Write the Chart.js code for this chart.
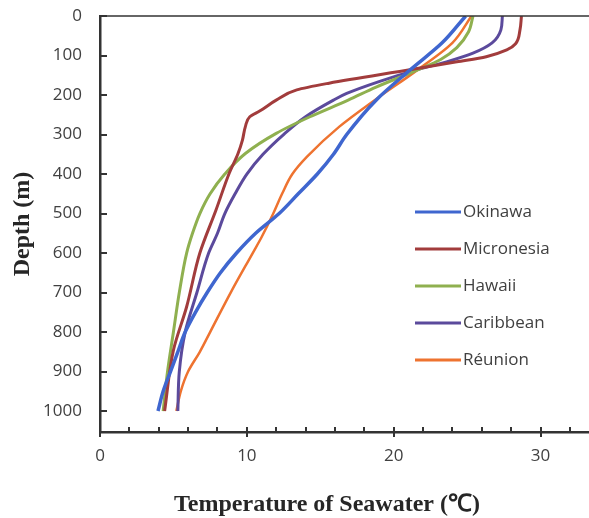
<!DOCTYPE html>
<html>
<head>
<meta charset="utf-8">
<script src="https://cdn.jsdelivr.net/npm/chart.js@4.4.0/dist/chart.umd.min.js"></script>
<style>
  html, body { margin: 0; padding: 0; background: #fff; }
  #wrap { width: 589px; height: 518px; }
</style>
</head>
<body>
<div id="wrap"><canvas id="tempChart" width="589" height="518"></canvas></div>
<script>
// Seawater temperature profiles (depth in m, temperature in degC)
const regions = ['Okinawa', 'Micronesia', 'Hawaii', 'Caribbean', 'Réunion'];
const colors = ['#3f66cf', '#a23c3c', '#8fb04f', '#5b4a9c', '#ee7330'];
const lineWidths = [3.5, 3, 3, 3, 2.5];

const okinawaDepth = [0, 68, 137, 213, 300, 350, 400, 450, 500, 550, 600, 650, 700, 750, 800, 850, 900, 950, 1000];
const okinawaTemp  = [24.9, 23.3, 21.1, 18.8, 16.8, 15.9, 14.8, 13.5, 12.2, 10.6, 9.3, 8.2, 7.3, 6.5, 5.8, 5.3, 4.8, 4.3, 3.95];

const micronesiaDepth = [0, 35, 70, 86, 103, 116, 135, 170, 187, 213, 240, 255, 280, 314, 348, 398, 491, 600, 736, 846, 1000];
const micronesiaTemp  = [28.7, 28.6, 28.3, 27.7, 26.3, 24.3, 21.3, 15.6, 13.4, 12.0, 10.9, 10.2, 9.9, 9.7, 9.4, 8.8, 7.9, 6.8, 5.9, 5.0, 4.4];

const hawaiiDepth = [0, 40, 80, 110, 137, 180, 213, 255, 297, 348, 400, 450, 500, 550, 600, 700, 800, 900, 1000];
const hawaiiTemp  = [25.4, 25.1, 24.3, 23.2, 21.6, 18.8, 16.9, 14.3, 12.0, 9.9, 8.5, 7.5, 6.8, 6.3, 5.9, 5.4, 5.0, 4.6, 4.3];

const caribbeanDepth = [0, 35, 68, 94, 116, 137, 166, 196, 213, 255, 300, 350, 400, 450, 500, 550, 600, 700, 800, 900, 1000];
const caribbeanTemp  = [27.4, 27.3, 26.7, 25.4, 23.6, 21.5, 19.0, 16.8, 15.9, 14.0, 12.5, 11.1, 10.0, 9.2, 8.5, 8.0, 7.4, 6.6, 5.8, 5.4, 5.3];

const reunionDepth = [0, 68, 137, 213, 280, 356, 400, 450, 500, 560, 600, 700, 800, 850, 900, 950, 1000];
const reunionTemp  = [25.3, 24.0, 21.6, 18.7, 16.3, 14.1, 13.1, 12.4, 11.8, 11.0, 10.4, 8.9, 7.5, 6.8, 6.0, 5.5, 5.2];

const depthTicks = [0, 100, 200, 300, 400, 500, 600, 700, 800, 900, 1000];
const tempTicks = [0, 10, 20, 30];

const depths = [okinawaDepth, micronesiaDepth, hawaiiDepth, caribbeanDepth, reunionDepth];
const temps = [okinawaTemp, micronesiaTemp, hawaiiTemp, caribbeanTemp, reunionTemp];

const labelFont = '17px "Open Sans", sans-serif';
const titleFont = 'bold 24px "Liberation Serif", "Times New Roman", serif';

// axis ticks, axis titles and the legend box inside the plot
const decorations = {
  id: 'decorations',
  afterDraw(chart) {
    const { ctx, chartArea: a, scales: { x, y } } = chart;
    ctx.save();
    ctx.strokeStyle = '#333';

    // thin line along depth 0
    ctx.lineWidth = 1.5;
    ctx.beginPath();
    ctx.moveTo(a.left, y.getPixelForValue(0));
    ctx.lineTo(a.right, y.getPixelForValue(0));
    ctx.stroke();

    // x tick marks: minor every 2, major every 10
    ctx.lineWidth = 2;
    for (let v = 0; v <= x.max; v += 2) {
      const px = Math.round(x.getPixelForValue(v));
      const major = v % 10 === 0;
      ctx.beginPath();
      ctx.moveTo(px, a.bottom - 5);
      ctx.lineTo(px, a.bottom + (major ? 5 : 0));
      ctx.stroke();
    }
    // y tick marks, pointing inward
    depthTicks.forEach(v => {
      const py = Math.round(y.getPixelForValue(v));
      ctx.beginPath();
      ctx.moveTo(a.left, py);
      ctx.lineTo(a.left + 7, py);
      ctx.stroke();
    });

    // axis titles
    ctx.fillStyle = '#262626';
    ctx.font = titleFont;
    ctx.textAlign = 'center';
    ctx.textBaseline = 'middle';
    ctx.fillText('Temperature of Seawater (\u2103)', 327, 505);
    ctx.save();
    ctx.translate(23, 224);
    ctx.rotate(-Math.PI / 2);
    ctx.fillText('Depth (m)', 0, 0);
    ctx.restore();

    // legend
    ctx.font = labelFont;
    ctx.textAlign = 'left';
    ctx.fillStyle = '#404040';
    chart.data.datasets.forEach((ds, i) => {
      const ly = 212 + i * 37;
      ctx.strokeStyle = ds.borderColor;
      ctx.lineWidth = 3;
      ctx.beginPath();
      ctx.moveTo(415, ly);
      ctx.lineTo(461, ly);
      ctx.stroke();
      ctx.fillText(ds.label, 463, ly);
    });
    ctx.restore();
  }
};

const ctx = document.getElementById('tempChart').getContext('2d');
const tempChart = new Chart(ctx, {
  type: 'line',
  data: {
    datasets: regions.map((name, i) => ({
      label: name,
      data: depths[i].map((d, k) => ({ x: temps[i][k], y: d })),
      borderColor: colors[i],
      backgroundColor: colors[i],
      borderWidth: lineWidths[i],
      pointRadius: 0,
      cubicInterpolationMode: 'monotone',
      fill: false
    }))
  },
  options: {
    indexAxis: 'y',
    responsive: false,
    animation: false,
    layout: { padding: { top: 16, right: 0, left: 0, bottom: 0 } },
    plugins: {
      legend: { display: false },
      tooltip: { enabled: false }
    },
    scales: {
      x: {
        type: 'linear',
        position: 'bottom',
        min: 0,
        max: 33.3,
        afterFit: s => { s.height = 86; },
        afterBuildTicks: s => { s.ticks = tempTicks.map(v => ({ value: v })); },
        grid: { display: false, drawTicks: false },
        border: { display: true, color: '#333', width: 2.5 },
        ticks: { color: '#404040', font: { family: '"Open Sans", sans-serif', size: 17 }, padding: 14, maxRotation: 0 }
      },
      y: {
        type: 'linear',
        position: 'left',
        reverse: true,
        min: 0,
        max: 1053,
        afterFit: s => { s.width = 100; s.paddingTop = 0; s.paddingBottom = 0; },
        afterBuildTicks: s => { s.ticks = depthTicks.map(v => ({ value: v })); },
        grid: { display: false, drawTicks: false },
        border: { display: true, color: '#333', width: 2.5 },
        ticks: {
          color: '#404040',
          font: { family: '"Open Sans", sans-serif', size: 17 },
          padding: 18,
          callback: v => String(v)
        }
      }
    }
  },
  plugins: [decorations]
});
</script>
</body>
</html>
